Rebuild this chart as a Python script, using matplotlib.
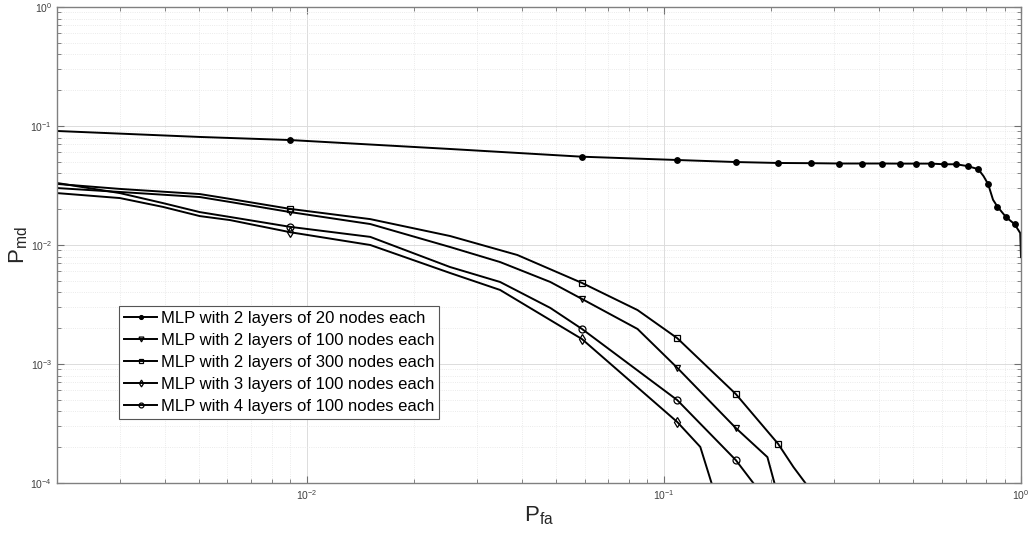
import numpy as np
from matplotlib import pyplot as plt
from matplotlib.ticker import LogLocator, NullFormatter

# values (false alarm prob. vs. missed detection prob.)
fa_20 = [0.002, 0.00502, 0.009, 0.0252, 0.059, 0.109, 0.159, 0.209, 0.259, 0.309,
         0.359, 0.409, 0.459, 0.509, 0.559, 0.609, 0.659, 0.709, 0.759, 0.785,
         0.809, 0.835, 0.859, 0.909, 0.959, 0.995, 1.0]
md_20 = [0.0908, 0.0809, 0.0762, 0.0641, 0.0552, 0.0518, 0.0498, 0.0489, 0.0487, 0.0484,
         0.0484, 0.0484, 0.0483, 0.0483, 0.0483, 0.0477, 0.0477, 0.0460, 0.0434, 0.0380,
         0.0325, 0.0240, 0.0210, 0.0171, 0.0150, 0.0126, 0.0079]

fa_2x100 = [0.002, 0.003, 0.00502, 0.0061, 0.009, 0.01507, 0.0252, 0.0348, 0.0481,
            0.059, 0.0844, 0.109, 0.159, 0.195, 0.204]
md_2x100 = [0.0301, 0.0279, 0.0253, 0.0230, 0.0189, 0.0150, 0.00962, 0.00719, 0.00489,
            0.00352, 0.00197, 0.00093, 0.00029, 0.000165, 0.0001]

fa_2x300 = [0.002, 0.003, 0.00502, 0.0061, 0.009, 0.01507, 0.0252, 0.0389, 0.059,
            0.0844, 0.109, 0.159, 0.209, 0.2307, 0.249]
md_2x300 = [0.0326, 0.0296, 0.0268, 0.0244, 0.0201, 0.0165, 0.0119, 0.00824, 0.0048,
            0.00284, 0.00165, 0.00056, 0.000213, 0.000136, 0.0001]

fa_3x100 = [0.002, 0.003, 0.00396, 0.00502, 0.0061, 0.009, 0.01507, 0.0252, 0.0348,
            0.0481, 0.059, 0.109, 0.1265, 0.136]
md_3x100 = [0.0273, 0.0248, 0.0209, 0.0175, 0.0162, 0.0128, 0.0100, 0.00582, 0.00419,
            0.00234, 0.00162, 0.000326, 0.000201, 0.0001]

fa_4x100 = [0.002, 0.003, 0.00396, 0.00502, 0.0061, 0.009, 0.01507, 0.0252, 0.0348,
            0.0481, 0.059, 0.109, 0.159, 0.178]
md_4x100 = [0.0332, 0.0273, 0.0225, 0.0189, 0.0172, 0.0142, 0.0117, 0.00653, 0.00489,
            0.00296, 0.00197, 0.000498, 0.000156, 0.0001]

# markers are drawn every 0.05 starting at 0.009
marker_x = [0.009, 0.059, 0.109, 0.159, 0.209, 0.259, 0.309, 0.359, 0.409, 0.459,
            0.509, 0.559, 0.609, 0.659, 0.709, 0.759, 0.809, 0.859, 0.909, 0.959]

series = [
    ('MLP with 2 layers of 20 nodes each', fa_20, md_20, 'o', 'k'),
    ('MLP with 2 layers of 100 nodes each', fa_2x100, md_2x100, 'v', 'none'),
    ('MLP with 2 layers of 300 nodes each', fa_2x300, md_2x300, 's', 'none'),
    ('MLP with 3 layers of 100 nodes each', fa_3x100, md_3x100, 'd', 'none'),
    ('MLP with 4 layers of 100 nodes each', fa_4x100, md_4x100, 'o', 'none'),
]

plt.rcParams['font.family'] = ['Liberation Sans', 'DejaVu Sans']
plt.rcParams['mathtext.fontset'] = 'custom'
plt.rcParams['mathtext.rm'] = 'Liberation Sans'

fig = plt.figure(figsize=(10.31, 5.35), dpi=100)
ax = fig.add_axes([57 / 1031, 52 / 535, 964 / 1031, 476 / 535])

for label, fa, md, marker, face in series:
    idx = [i for i, x in enumerate(fa) if np.any(np.isclose(x, marker_x))]
    ms = 4 if marker == 'o' and face == 'k' else 5
    ax.plot(fa, md, color='k', lw=1.4, marker=marker, markevery=idx,
            markersize=ms, markerfacecolor=face, markeredgecolor='k',
            markeredgewidth=0.9, label=label)

ax.set_xscale('log')
ax.set_yscale('log')
ax.set_xlim(0.002, 1)
ax.set_ylim(1e-4, 1)

ax.xaxis.set_minor_locator(LogLocator(base=10, subs=np.arange(2, 10)))
ax.yaxis.set_minor_locator(LogLocator(base=10, subs=np.arange(2, 10)))
ax.xaxis.set_minor_formatter(NullFormatter())
ax.yaxis.set_minor_formatter(NullFormatter())

ax.grid(True, which='major', color='#dcdcdc', lw=0.7, ls='-')
ax.grid(True, which='minor', color='#e4e4e4', lw=0.6, ls=':')
ax.set_axisbelow(True)

ax.tick_params(which='both', direction='in', top=True, right=True,
               colors='#707070', labelcolor='#404040', labelsize=7.5)
ax.tick_params(which='major', length=5, width=0.8)
ax.tick_params(which='minor', length=3, width=0.6)
for spine in ax.spines.values():
    spine.set_color('#808080')
    spine.set_linewidth(1.0)

ax.set_xlabel(r'$\mathregular{P_{fa}}$', fontsize=16, labelpad=2, color='#262626')
ax.set_ylabel(r'$\mathregular{P_{md}}$', fontsize=16, labelpad=0, color='#262626')

leg = ax.legend(loc='lower left', bbox_to_anchor=(0.0643, 0.1345), borderaxespad=0,
                fontsize=12, handlelength=2.0, handletextpad=0.2,
                labelspacing=0.42, borderpad=0.3, fancybox=False,
                framealpha=1, edgecolor='#555555', markerscale=0.7)
leg.get_frame().set_linewidth(0.8)

fig.savefig('out.png', dpi=100)
